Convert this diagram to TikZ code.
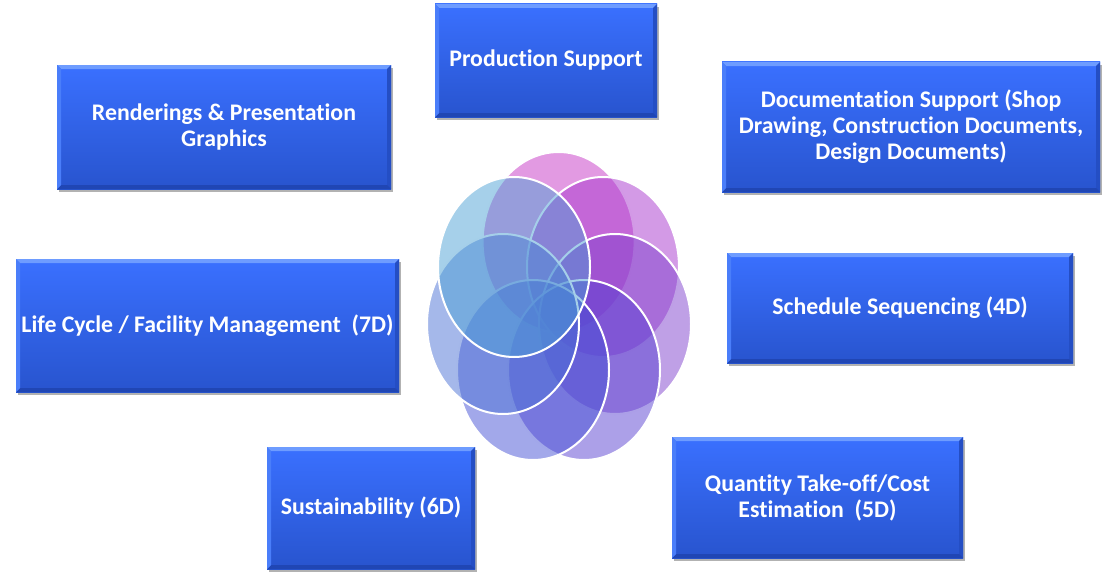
\documentclass[tikz,border=0pt]{standalone}
\usepackage{fontspec}
\setmainfont{Carlito}[Ligatures=NoCommon]
\usetikzlibrary{shadows}
\definecolor{bxtop}{RGB}{58,112,255}
\definecolor{bxmid}{RGB}{53,104,244}
\definecolor{bxbot}{RGB}{40,84,206}
\definecolor{bvtop}{RGB}{110,156,255}
\definecolor{bvleft}{RGB}{74,126,250}
\definecolor{bvright}{RGB}{36,78,196}
\definecolor{bvbot}{RGB}{32,70,180}
\definecolor{ea}{RGB}{197,53,197}
\definecolor{eb}{RGB}{167,53,205}
\definecolor{ec}{RGB}{127,65,205}
\definecolor{ed}{RGB}{89,65,209}
\definecolor{ee}{RGB}{69,81,213}
\definecolor{ef}{RGB}{75,113,213}
\definecolor{eg}{RGB}{77,161,213}
\tikzset{
  bluebox/.style={rectangle, inner sep=0pt, text=white, align=center,
    font=\bfseries\fontsize{23.8}{26}\selectfont,
    top color=bxtop, middle color=bxmid, bottom color=bxbot,
    drop shadow={shadow xshift=2pt, shadow yshift=-3pt, opacity=0.3, fill=black},
    path picture={
      \coordinate (bNW) at (path picture bounding box.north west);
      \coordinate (bNE) at (path picture bounding box.north east);
      \coordinate (bSW) at (path picture bounding box.south west);
      \coordinate (bSE) at (path picture bounding box.south east);
      \fill[bvtop] (bNW) -- (bNE) -- ([xshift=-4pt,yshift=-4pt]bNE) -- ([xshift=4pt,yshift=-4pt]bNW) -- cycle;
      \fill[bvright] (bNE) -- (bSE) -- ([xshift=-4pt,yshift=4pt]bSE) -- ([xshift=-4pt,yshift=-4pt]bNE) -- cycle;
      \fill[bvbot] (bSE) -- (bSW) -- ([xshift=4pt,yshift=4pt]bSW) -- ([xshift=-4pt,yshift=4pt]bSE) -- cycle;
      \fill[bvleft] (bSW) -- (bNW) -- ([xshift=4pt,yshift=-4pt]bNW) -- ([xshift=4pt,yshift=4pt]bSW) -- cycle;
    }},
  petal/.style={draw=white, line width=2pt, fill=#1, fill opacity=0.5, x radius=76pt, y radius=90pt}
}
\begin{document}
\begin{tikzpicture}[x=1pt,y=-1pt]
\useasboundingbox (0,0) rectangle (1110,578);
% petals
\draw[petal=ea] (558.6,242) ellipse [];
\draw[petal=eb] (603,267) ellipse [];
\draw[petal=ec] (615,324) ellipse [];
\draw[petal=ed] (584,370) ellipse [];
\draw[petal=ee] (533,370) ellipse [];
\draw[petal=ef] (503,324) ellipse [];
\draw[petal=eg] (514,267) ellipse [];
% boxes
\node[bluebox, minimum width=334pt, minimum height=124pt] (rend) at (224,127) {Renderings \& Presentation\\Graphics};
\node[bluebox, minimum width=222pt, minimum height=113pt] (prod) at (546,60.5) {Production Support};
\node[bluebox, minimum width=378pt, minimum height=130pt] (doc) at (911,127) {Documentation Support (Shop\\Drawing, Construction Documents,\\Design Documents)};
\node[bluebox, minimum width=383pt, minimum height=133pt] (life) at (207.5,325.5) {Life Cycle / Facility Management\ \ (7D)};
\node[bluebox, minimum width=346pt, minimum height=110pt] (sched) at (900,308) {Schedule Sequencing (4D)};
\node[bluebox, minimum width=208pt, minimum height=122pt] (sust) at (371,508) {Sustainability (6D)};
\node[bluebox, minimum width=291pt, minimum height=121pt] (quant) at (817.5,497.5) {Quantity Take-off/Cost\\Estimation\ \ (5D)};
\end{tikzpicture}
\end{document}
